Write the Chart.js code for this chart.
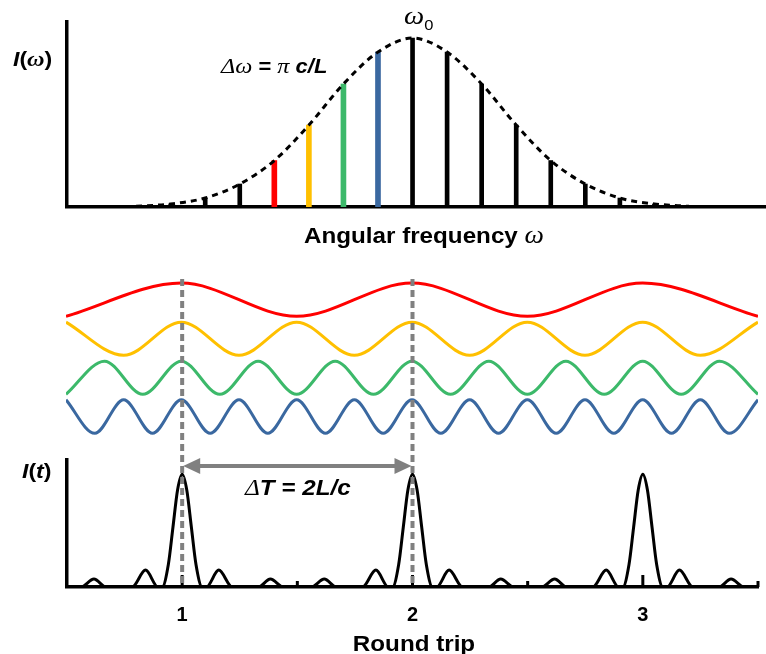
<!DOCTYPE html>
<html lang="en">
<head>
  <meta charset="UTF-8">
  <title>Mode locking: comb, modes and pulse train</title>
  <script src="https://cdn.jsdelivr.net/npm/chart.js@4.4.1/dist/chart.umd.min.js"></script>
  <style>
    html, body { margin: 0; padding: 0; background: #fff; }
    #wrap { position: relative; width: 766px; height: 654px; overflow: hidden; }
    canvas { position: absolute; left: 0; }
  </style>
</head>
<body>
<div id="wrap">
  <canvas id="specChart" width="766" height="262" style="top:0"></canvas>
  <canvas id="waveChart" width="766" height="180" style="top:270px"></canvas>
  <canvas id="pulseChart" width="766" height="384" style="top:270px"></canvas>
</div>
<script>
// --- spectrum (x in units of the mode spacing, 0 = w0) ---
const combPos    = [-7, -6, -5, -4, -3, -2, -1, 0, 1, 2, 3, 4, 5, 6, 7];
const combHeight = [0.018, 0.053, 0.136, 0.275, 0.485, 0.728, 0.917, 1, 0.917, 0.728, 0.485, 0.275, 0.136, 0.053, 0.018];
const combColor  = ['#000', '#000', '#000', '#ff0000', '#ffc000', '#3cb96a', '#3a68a0', '#000',
                    '#000', '#000', '#000', '#000', '#000', '#000', '#000'];
const envPos     = [-8, -7, -6, -5, -4, -3, -2, -1, 0, 1, 2, 3, 4, 5, 6, 7, 8];
const envLevel   = [0.004, 0.018, 0.053, 0.136, 0.275, 0.485, 0.728, 0.917, 1, 0.917, 0.728, 0.485, 0.275, 0.136, 0.053, 0.018, 0.004];

// --- the four modes (x in round trips, y = vertical level, one unit per row) ---
const redX    = [0.5, 1, 1.5, 2, 2.5, 3, 3.5];
const redY    = [2.57, 3.42, 2.57, 3.42, 2.57, 3.42, 2.57];
const yellowX = [0.5, 0.75, 1, 1.25, 1.5, 1.75, 2, 2.25, 2.5, 2.75, 3, 3.25, 3.5];
const yellowY = [2.42, 1.57, 2.42, 1.57, 2.42, 1.57, 2.42, 1.57, 2.42, 1.57, 2.42, 1.57, 2.42];
const greenX  = [0.5, 0.667, 0.833, 1, 1.167, 1.333, 1.5, 1.667, 1.833, 2, 2.167, 2.333, 2.5, 2.667, 2.833, 3, 3.167, 3.333, 3.5];
const greenY  = [0.57, 1.42, 0.57, 1.42, 0.57, 1.42, 0.57, 1.42, 0.57, 1.42, 0.57, 1.42, 0.57, 1.42, 0.57, 1.42, 0.57, 1.42, 0.57];
const blueX   = [0.5, 0.625, 0.75, 0.875, 1, 1.125, 1.25, 1.375, 1.5, 1.625, 1.75, 1.875, 2, 2.125, 2.25, 2.375, 2.5,
                 2.625, 2.75, 2.875, 3, 3.125, 3.25, 3.375, 3.5];
const blueY   = [0.43, -0.43, 0.43, -0.43, 0.43, -0.43, 0.43, -0.43, 0.43, -0.43, 0.43, -0.43, 0.43, -0.43, 0.43, -0.43, 0.43,
                 -0.43, 0.43, -0.43, 0.43, -0.43, 0.43, -0.43, 0.43];

// --- pulse train I(t) ---
const pulseT = [0.5, 0.56, 0.617, 0.67, 0.783, 0.841, 0.895, 0.913, 0.94, 0.96, 0.98, 1, 1.02, 1.04, 1.06, 1.087, 1.105, 1.159, 1.217, 1.33, 1.383, 1.44,
                1.56, 1.617, 1.67, 1.783, 1.841, 1.895, 1.913, 1.94, 1.96, 1.98, 2, 2.02, 2.04, 2.06, 2.087, 2.105, 2.159, 2.217, 2.33, 2.383, 2.44,
                2.56, 2.617, 2.67, 2.783, 2.841, 2.895, 2.913, 2.94, 2.96, 2.98, 3, 3.02, 3.04, 3.06, 3.087, 3.105, 3.159, 3.217, 3.33, 3.383, 3.44, 3.5];
const pulseI = [0, 0, 0.07, 0, 0, 0.15, 0, 0, 0.2, 0.53, 0.86, 1, 0.86, 0.53, 0.2, 0, 0, 0.15, 0, 0, 0.07, 0,
                0, 0.07, 0, 0, 0.15, 0, 0, 0.2, 0.53, 0.86, 1, 0.86, 0.53, 0.2, 0, 0, 0.15, 0, 0, 0.07, 0,
                0, 0.07, 0, 0, 0.15, 0, 0, 0.2, 0.53, 0.86, 1, 0.86, 0.53, 0.2, 0, 0, 0.15, 0, 0, 0.07, 0, 0];
const tickLabels = [1, 2, 3];
const majorTicks = [1, 2, 3];
const minorTicks = [1.5, 2.5, 3.5];
const guideAt = [1, 2];          // dashed gray markers, also the arrow ends

const SANS = '"Liberation Sans", Arial, sans-serif';
const SERIF = '"Liberation Serif", "Times New Roman", serif';
const GRAY = '#808080';

// draws a row of differently styled text pieces, slightly widened like the original
function drawRuns(ctx, x, y, runs) {
  ctx.save();
  ctx.translate(x, y);
  ctx.scale(1.1, 1);
  ctx.fillStyle = '#000';
  ctx.textAlign = 'left';
  ctx.textBaseline = 'alphabetic';
  let cx = 0;
  for (const [txt, font, dx = 0, dy = 0] of runs) {
    ctx.font = font;
    ctx.fillText(txt, cx + dx, dy);
    cx += dx + ctx.measureText(txt).width;
  }
  ctx.restore();
}

const noAxis = { ticks: { display: false }, grid: { display: false, drawTicks: false } };
const axisBorder = { display: true, color: '#000', width: 3.5 };

// ---------- top: spectrum ----------
const combData = combPos.map((x, i) => ({ x, y: combHeight[i] }));
const specText = {
  id: 'specText',
  afterDraw(chart) {
    const ctx = chart.ctx;
    drawRuns(ctx, 13, 66, [['I', 'bold italic 21px ' + SANS], ['(', 'bold 21px ' + SANS],
      ['ω', 'bold italic 22px ' + SERIF], [')', 'bold 21px ' + SANS]]);
    drawRuns(ctx, 221, 73, [['Δω', 'italic 22px ' + SERIF], [' = ', 'bold 20px ' + SANS],
      ['π', 'italic 22px ' + SERIF], [' c/L', 'bold italic 20px ' + SANS]]);
    drawRuns(ctx, 404, 24, [['ω', 'italic 26px ' + SERIF], ['0', '15px ' + SANS, 0, 6]]);
    drawRuns(ctx, 304, 243, [['Angular frequency ', 'bold 22px ' + SANS], ['ω', 'italic 25px ' + SERIF]]);
  }
};
new Chart(document.getElementById('specChart'), {
  type: 'bar',
  data: {
    datasets: [
      { type: 'line', data: envPos.map((x, i) => ({ x, y: envLevel[i] })), borderColor: '#000', borderWidth: 3,
        borderDash: [6, 5], pointRadius: 0, cubicInterpolationMode: 'monotone', order: 0 },
      { data: combData.filter((_, i) => combColor[i] === '#000'), backgroundColor: '#000',
        barThickness: 4, grouped: false, order: 1 },
      { data: combData.filter((_, i) => combColor[i] !== '#000'), backgroundColor: combColor.filter(c => c !== '#000'),
        barThickness: 5, grouped: false, order: 1 }
    ]
  },
  options: {
    responsive: false, animation: false,
    layout: { padding: { left: 67, right: 1, top: 22, bottom: 55 } },
    plugins: { legend: { display: false }, tooltip: { enabled: false } },
    scales: {
      x: { type: 'linear', min: -10, max: 10.2, offset: false, ...noAxis, border: axisBorder },
      y: { min: 0, max: 1.095, ...noAxis, border: axisBorder }
    }
  },
  plugins: [specText]
});

// ---------- middle: modes ----------
const wave = (xs, ys, color) => ({
  data: xs.map((x, i) => ({ x, y: ys[i] })), borderColor: color, borderWidth: 3,
  pointRadius: 0, cubicInterpolationMode: 'monotone'
});
new Chart(document.getElementById('waveChart'), {
  type: 'line',
  data: {
    datasets: [
      wave(redX, redY, '#ff0000'),
      wave(yellowX, yellowY, '#ffc000'),
      wave(greenX, greenY, '#3cb96a'),
      wave(blueX, blueY, '#3a68a0')
    ]
  },
  options: {
    responsive: false, animation: false,
    layout: { padding: { left: 66, right: 8, top: 10, bottom: 10 } },
    plugins: { legend: { display: false }, tooltip: { enabled: false } },
    scales: {
      x: { type: 'linear', min: 0.5, max: 3.5, display: false },
      y: { min: -0.6, max: 3.5, display: false }
    }
  }
});

// ---------- bottom: pulse train ----------
const pulseExtras = {
  id: 'pulseExtras',
  afterDatasetsDraw(chart) {
    const { ctx, scales: { x, y } } = chart;
    const base = y.getPixelForValue(0);
    ctx.save();
    ctx.strokeStyle = '#000';
    ctx.lineWidth = 3;
    for (const v of majorTicks.concat(minorTicks)) {
      const px = x.getPixelForValue(v);
      const len = majorTicks.includes(v) ? 12 : 6;
      ctx.beginPath(); ctx.moveTo(px, base); ctx.lineTo(px, base - len); ctx.stroke();
    }
    // dashed guides reaching up through the mode panel
    ctx.strokeStyle = GRAY;
    ctx.lineWidth = 4;
    ctx.setLineDash([7, 4]);
    for (const v of guideAt) {
      const px = x.getPixelForValue(v);
      ctx.beginPath(); ctx.moveTo(px, y.getPixelForValue(2.73)); ctx.lineTo(px, base); ctx.stroke();
    }
    ctx.setLineDash([]);
    // double arrow between the two guides
    const ay = y.getPixelForValue(1.072);
    const x1 = x.getPixelForValue(guideAt[0]) + 1, x2 = x.getPixelForValue(guideAt[1]) - 1;
    ctx.beginPath(); ctx.moveTo(x1 + 12, ay); ctx.lineTo(x2 - 12, ay); ctx.stroke();
    ctx.fillStyle = GRAY;
    ctx.beginPath(); ctx.moveTo(x1, ay); ctx.lineTo(x1 + 17, ay - 8); ctx.lineTo(x1 + 17, ay + 8); ctx.closePath(); ctx.fill();
    ctx.beginPath(); ctx.moveTo(x2, ay); ctx.lineTo(x2 - 17, ay - 8); ctx.lineTo(x2 - 17, ay + 8); ctx.closePath(); ctx.fill();
    ctx.restore();

    const off = 270;
    drawRuns(ctx, 22, 478 - off, [['I', 'bold italic 21px ' + SANS], ['(', 'bold 21px ' + SANS],
      ['t', 'bold italic 21px ' + SANS], [')', 'bold 21px ' + SANS]]);
    drawRuns(ctx, 245, 495 - off, [['Δ', 'italic 23px ' + SERIF], ['T = 2L/c', 'bold italic 22px ' + SANS]]);
    ctx.save();
    ctx.font = 'bold 22px ' + SANS;
    const w = ctx.measureText('Round trip').width * 1.1;
    ctx.restore();
    drawRuns(ctx, 414 - w / 2, 651 - off, [['Round trip', 'bold 22px ' + SANS]]);
  }
};
new Chart(document.getElementById('pulseChart'), {
  type: 'line',
  data: {
    datasets: [{
      data: pulseT.map((t, i) => ({ x: t, y: pulseI[i] })), borderColor: '#000', borderWidth: 3,
      pointRadius: 0, cubicInterpolationMode: 'monotone'
    }]
  },
  options: {
    responsive: false, animation: false,
    layout: { padding: { left: 67, right: 8, top: 190, bottom: 11 } },
    plugins: { legend: { display: false }, tooltip: { enabled: false } },
    scales: {
      x: {
        type: 'linear', min: 0.5, max: 3.5,
        grid: { display: false, drawTicks: false }, border: axisBorder,
        afterBuildTicks: s => { s.ticks = tickLabels.map(v => ({ value: v })); },
        ticks: { color: '#000', padding: 16, font: { family: SANS, size: 20, weight: 'bold' }, callback: v => String(v) }
      },
      y: { min: 0, max: 1.126, ...noAxis, border: axisBorder }
    }
  },
  plugins: [pulseExtras]
});
</script>
</body>
</html>
